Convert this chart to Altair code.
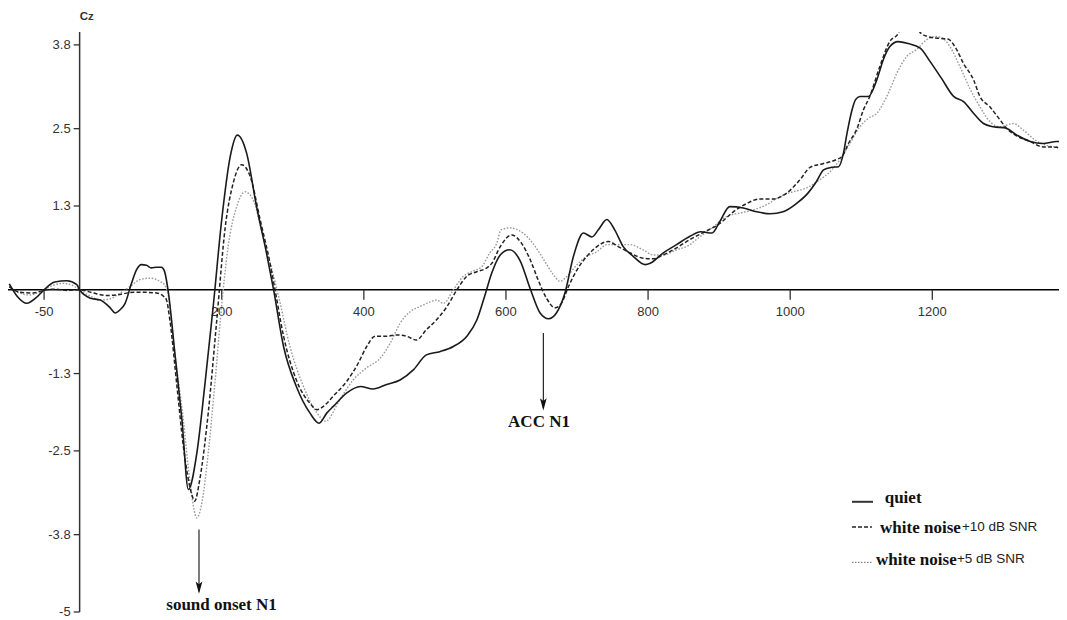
import altair as alt
import pandas as pd

# ---------------- data ----------------
quiet_ms = [-99, -88, -74, -62, -50, -35, -18, -4, 0, 15, 29, 43, 50, 57, 64, 73, 80, 87, 94, 101, 108, 115,
            119, 125, 134, 144, 153, 165, 176, 188, 200, 212, 222, 235, 249, 263, 273, 287, 305, 324, 337,
            348, 357, 376, 395, 413, 432, 451, 470, 488, 507, 526, 545, 559, 570, 580, 592, 605, 620, 634,
            648, 660, 671, 683, 695, 709, 721, 730, 742, 753, 765, 779, 796, 803, 821, 840, 859, 874, 890,
            901, 915, 934, 953, 972, 990, 1009, 1025, 1037, 1047, 1058, 1068, 1075, 1080, 1087, 1092, 1098,
            1110, 1122, 1131, 1140, 1152, 1166, 1183, 1197, 1213, 1230, 1244, 1258, 1272, 1286, 1303, 1319,
            1338, 1356, 1375, 1389]
quiet_uv = [0.09, -0.10, -0.21, -0.13, 0.0, 0.12, 0.14, 0.08, 0.0, -0.13, -0.16, -0.28, -0.36, -0.31, -0.21,
            0.10, 0.31, 0.39, 0.38, 0.34, 0.35, 0.35, 0.30, -0.05, -0.98, -2.02, -3.10, -2.53, -1.50, -0.26,
            1.09, 2.07, 2.40, 2.12, 1.29, 0.57, 0.0, -0.88, -1.50, -1.91, -2.07, -1.91, -1.81, -1.60, -1.50,
            -1.54, -1.47, -1.40, -1.24, -1.01, -0.96, -0.88, -0.72, -0.47, -0.10, 0.26, 0.54, 0.62, 0.45,
            0.02, -0.36, -0.45, -0.36, -0.05, 0.52, 0.88, 0.82, 0.93, 1.09, 0.93, 0.67, 0.52, 0.39, 0.41,
            0.57, 0.70, 0.83, 0.90, 0.88, 1.06, 1.29, 1.27, 1.21, 1.18, 1.21, 1.34, 1.50, 1.68, 1.86, 1.90,
            1.91, 2.12, 2.43, 2.79, 2.95, 3.0, 3.0, 3.26, 3.57, 3.77, 3.85, 3.82, 3.75, 3.54, 3.28, 3.0,
            2.92, 2.74, 2.58, 2.53, 2.51, 2.40, 2.30, 2.27, 2.30, 2.30]

snr10_ms = [-99, -84, -65, -51, -35, -18, 0, 19, 38, 52, 76, 94, 108, 118, 122, 127, 137, 146, 158, 162, 169,
            181, 193, 205, 216, 228, 240, 254, 268, 275, 287, 305, 324, 334, 348, 357, 376, 392, 404, 416,
            432, 446, 460, 474, 488, 502, 517, 531, 545, 559, 573, 580, 592, 608, 622, 634, 645, 657, 669,
            678, 688, 700, 714, 728, 744, 758, 775, 793, 807, 821, 840, 859, 878, 901, 920, 939, 957, 976,
            995, 1014, 1028, 1047, 1065, 1073, 1082, 1094, 1103, 1112, 1126, 1140, 1152, 1160, 1175, 1183,
            1197, 1211, 1222, 1232, 1244, 1258, 1267, 1281, 1295, 1305, 1320, 1338, 1354, 1375, 1389]
snr10_uv = [0.05, -0.04, -0.05, -0.01, 0.01, -0.01, 0.0, -0.05, -0.09, -0.08, -0.04, -0.04, -0.05, -0.10,
            -0.15, -0.47, -1.50, -2.43, -3.18, -3.28, -2.95, -1.91, -0.47, 0.98, 1.65, 1.94, 1.76, 1.09,
            0.41, 0.0, -0.72, -1.40, -1.76, -1.86, -1.76, -1.65, -1.42, -1.14, -0.88, -0.72, -0.72, -0.70,
            -0.72, -0.78, -0.62, -0.47, -0.26, 0.0, 0.21, 0.28, 0.34, 0.41, 0.67, 0.85, 0.72, 0.47, 0.16,
            -0.13, -0.28, -0.21, 0.05, 0.31, 0.52, 0.67, 0.75, 0.67, 0.57, 0.49, 0.48, 0.54, 0.65, 0.78,
            0.89, 1.03, 1.21, 1.34, 1.41, 1.41, 1.50, 1.71, 1.90, 1.96, 2.02, 2.07, 2.27, 2.50, 2.79, 3.0,
            3.46, 3.85, 3.98, 4.20, 4.20, 3.99, 3.92, 3.90, 3.89, 3.77, 3.51, 3.26, 3.0, 2.84, 2.64, 2.50,
            2.38, 2.30, 2.22, 2.21, 2.09]

snr5_ms = [-99, -84, -70, -56, -42, -23, -7, 0, 15, 29, 43, 57, 71, 85, 99, 113, 120, 125, 134, 146, 155,
           165, 172, 181, 190, 198, 209, 221, 233, 244, 258, 273, 280, 296, 315, 334, 346, 366, 385, 404,
           423, 437, 451, 465, 479, 489, 502, 512, 526, 540, 552, 566, 577, 587, 593, 606, 624, 638, 653,
           667, 676, 686, 700, 714, 728, 742, 756, 775, 793, 807, 821, 840, 859, 868, 892, 911, 929, 948,
           967, 986, 1004, 1023, 1042, 1056, 1070, 1084, 1098, 1110, 1122, 1136, 1150, 1164, 1178, 1192,
           1206, 1215, 1225, 1239, 1253, 1267, 1281, 1295, 1314, 1328, 1345, 1361, 1380, 1389]
snr5_uv = [0.05, -0.05, -0.08, -0.03, 0.05, 0.10, 0.05, 0.0, -0.10, -0.16, -0.14, -0.05, 0.05, 0.16, 0.18,
           0.13, 0.07, -0.10, -0.98, -2.02, -2.95, -3.54, -3.31, -2.53, -1.50, -0.47, 0.67, 1.29, 1.52,
           1.40, 0.83, 0.21, -0.10, -0.88, -1.50, -1.91, -2.04, -1.71, -1.40, -1.21, -1.06, -0.83, -0.52,
           -0.34, -0.26, -0.21, -0.16, -0.21, 0.0, 0.21, 0.28, 0.36, 0.57, 0.72, 0.93, 0.96, 0.88, 0.72,
           0.47, 0.23, 0.13, 0.21, 0.39, 0.52, 0.59, 0.70, 0.70, 0.70, 0.62, 0.54, 0.54, 0.62, 0.70, 0.78,
           0.98, 1.14, 1.19, 1.24, 1.32, 1.45, 1.52, 1.58, 1.71, 1.83, 2.02, 2.27, 2.53, 2.66, 2.74, 3.0,
           3.36, 3.62, 3.73, 3.88, 3.93, 3.90, 3.77, 3.46, 3.12, 2.84, 2.61, 2.53, 2.58, 2.48, 2.32, 2.24,
           2.21, 2.20]

x_tick_values = [-50, 200, 400, 600, 800, 1000, 1200]
x_tick_labels = ["-50", "200", "400", "600", "800", "1000", "1200"]
y_tick_values = [3.8, 2.5, 1.3, -1.3, -2.5, -3.8, -5.0]
y_tick_labels = ["3.8", "2.5", "1.3", "-1.3", "-2.5", "-3.8", "-5"]

# annotations (data coordinates: ms, microvolts)
arrow_x = [168, 652.6]
arrow_top = [-3.72, -0.67]
arrow_bottom = [-4.68, -1.84]
arrow_head = [-4.62, -1.78]
note_x = [199.7, 646.5]
note_y = [-4.97, -2.13]
note_text = ["sound onset N1", "ACC N1"]

# legend (data coordinates)
leg_x1 = [1087, 1087, 1087]
leg_x2 = [1116.5, 1115, 1115]
leg_line_y = [-3.29, -3.68, -4.23]
leg_name_x = [1133, 1126.5, 1120.7]
leg_name_y = [-3.31, -3.77, -4.27]
leg_name = ["quiet", "white noise", "white noise"]
leg_snr_x = [1241.7, 1234.7]
leg_snr_y = [-3.75, -4.24]
leg_snr = ["+10 dB SNR", "+5 dB SNR"]

X_DOMAIN = [-100.8, 1378.3]
Y_DOMAIN = [-5.0, 4.0]
X_TICK_LEN = 0.155   # microvolts (~10 px)
Y_TICK_LEN = 8.4     # ms (~6 px)

SANS = "Liberation Sans"
SERIF = "Liberation Serif"

xs = alt.Scale(domain=X_DOMAIN, nice=False, zero=False)
ys = alt.Scale(domain=Y_DOMAIN, nice=False, zero=False)


def X(f):
    return alt.X(f, type="quantitative", scale=xs, axis=None)


def Y(f):
    return alt.Y(f, type="quantitative", scale=ys, axis=None)


def curve(ms, uv, color, width, dash):
    df = pd.DataFrame({"ms": ms, "uv": uv})
    kw = dict(interpolate="monotone", clip=True, color=color, strokeWidth=width)
    if dash:
        kw["strokeDash"] = dash
    return alt.Chart(df).mark_line(**kw).encode(x=X("ms"), y=Y("uv"))


dotted = curve(snr5_ms, snr5_uv, "#9a9a9a", 1.4, [1.6, 1.6])
dashed = curve(snr10_ms, snr10_uv, "#222222", 1.5, [4, 2.2])
solid = curve(quiet_ms, quiet_uv, "#1a1a1a", 1.6, None)

zero_line = alt.Chart(pd.DataFrame({"y": [0.0]})).mark_rule(color="#000", strokeWidth=1.6).encode(y=Y("y"))
y_axis_line = alt.Chart(pd.DataFrame({"x": [0.0], "y": [Y_DOMAIN[0]], "y2": [Y_DOMAIN[1]]})).mark_rule(
    color="#333", strokeWidth=1.5).encode(x=X("x"), y=Y("y"), y2="y2")

xt = pd.DataFrame({"x": x_tick_values, "lab": x_tick_labels, "y": [0.0] * len(x_tick_values),
                   "y2": [-X_TICK_LEN] * len(x_tick_values)})
x_ticks = alt.Chart(xt).mark_rule(color="#333", strokeWidth=1.3).encode(x=X("x"), y=Y("y"), y2="y2")
x_labels = alt.Chart(xt).mark_text(font=SANS, fontSize=13, color="#333", align="center",
                                   baseline="middle", dy=22).encode(x=X("x"), y=Y("y"), text="lab:N")

yt = pd.DataFrame({"y": y_tick_values, "lab": y_tick_labels, "x": [0.0] * len(y_tick_values),
                   "x2": [-Y_TICK_LEN] * len(y_tick_values)})
y_ticks = alt.Chart(yt).mark_rule(color="#333", strokeWidth=1.3).encode(x=X("x"), x2="x2", y=Y("y"))
y_labels = alt.Chart(yt).mark_text(font=SANS, fontSize=13, color="#333", align="right",
                                   baseline="middle", dx=-9).encode(x=X("x"), y=Y("y"), text="lab:N")

cz = alt.Chart(pd.DataFrame({"x": [0.0], "y": [Y_DOMAIN[1]], "t": ["Cz"]})).mark_text(
    font=SANS, fontSize=11.5, fontWeight="bold", color="#333", align="left", baseline="middle",
    dy=-15).encode(x=X("x"), y=Y("y"), text="t:N")

arr = pd.DataFrame({"x": arrow_x, "y": arrow_top, "y2": arrow_bottom, "h": arrow_head})
arrow_lines = alt.Chart(arr).mark_rule(color="#111", strokeWidth=1.1).encode(x=X("x"), y=Y("y"), y2="y2")
arrow_heads = alt.Chart(arr).mark_point(
    shape="M0,1 L-0.55,-1 L0,-0.55 L0.55,-1 Z", filled=True, color="#111", opacity=1, size=150
).encode(x=X("x"), y=Y("h"))
notes = alt.Chart(pd.DataFrame({"x": note_x, "y": note_y, "t": note_text})).mark_text(
    font=SERIF, fontSize=17, fontWeight="bold", color="#111", align="center", baseline="alphabetic"
).encode(x=X("x"), y=Y("y"), text="t:N")

leg_styles = [("#333", 2.0, None), ("#222", 1.4, [4, 2]), ("#888", 1.3, [1.5, 1.5])]
leg_lines = []
for i, (c, w, d) in enumerate(leg_styles):
    kw = dict(color=c, strokeWidth=w)
    if d:
        kw["strokeDash"] = d
    leg_lines.append(
        alt.Chart(pd.DataFrame({"x": [leg_x1[i]], "x2": [leg_x2[i]], "y": [leg_line_y[i]]}))
        .mark_rule(**kw).encode(x=X("x"), x2="x2", y=Y("y")))
leg_names = alt.Chart(pd.DataFrame({"x": leg_name_x, "y": leg_name_y, "t": leg_name})).mark_text(
    font=SERIF, fontSize=17, fontWeight="bold", color="#111", align="left", baseline="alphabetic"
).encode(x=X("x"), y=Y("y"), text="t:N")
leg_snrs = alt.Chart(pd.DataFrame({"x": leg_snr_x, "y": leg_snr_y, "t": leg_snr})).mark_text(
    font=SANS, fontSize=13.5, color="#222", align="left", baseline="alphabetic"
).encode(x=X("x"), y=Y("y"), text="t:N")

chart = alt.layer(
    zero_line, y_axis_line, x_ticks, y_ticks, x_labels, y_labels, cz,
    dotted, dashed, solid,
    arrow_lines, arrow_heads, notes, *leg_lines, leg_names, leg_snrs
).properties(
    width=1051, height=580,
    padding={"left": 0, "right": 0, "top": 24, "bottom": 6},
    autosize=alt.AutoSizeParams(type="none"),
).configure_view(stroke=None)

chart.save("out.html", embed_options={"renderer": "svg", "actions": False})
